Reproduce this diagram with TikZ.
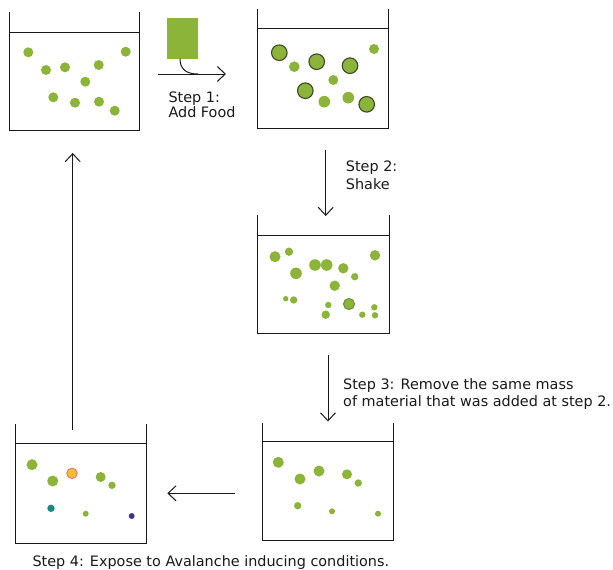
\documentclass[tikz,border=0pt]{standalone}
\usepackage{fontspec}
\setmainfont{DejaVu Sans}
\usetikzlibrary{arrows.meta}
\definecolor{leaf}{RGB}{139,180,57}
\definecolor{leafline}{RGB}{62,72,42}
\definecolor{sun}{RGB}{242,190,52}
\definecolor{pinkline}{RGB}{226,110,130}
\definecolor{tealdot}{RGB}{22,140,128}
\definecolor{navydot}{RGB}{62,52,140}
\definecolor{ink}{RGB}{25,25,25}
\tikzset{
  beakerline/.style={draw=ink, line width=1pt},
  flow/.style={draw=ink, line width=1pt, -{Straight Barb[length=8pt,width=15pt,line width=1pt]}},
  lbl/.style={font=\fontsize{14.4}{17}\selectfont, text=ink, inner sep=0pt, anchor=base west},
  dot/.style={fill=leaf, draw=none},
  bigdot/.style={fill=leaf, draw=leafline, line width=1.1pt},
}
\newcommand\mybeaker[5]{%
  \draw[beakerline] (#1,#2) -- (#1,#5) -- (#3,#5) -- (#3,#2);
  \draw[beakerline] (#1,#4) -- (#3,#4);
}
\begin{document}
\begin{tikzpicture}[x=1pt,y=-1pt]
\useasboundingbox (0,0) rectangle (613,570);
% beakers
\mybeaker{9}{12}{139}{32}{130}
\mybeaker{257}{9}{388}{28}{128}
\mybeaker{257}{215}{389}{235}{333}
\mybeaker{262}{423}{393}{441}{540}
\mybeaker{15}{424}{146}{443}{543}
% beaker 1 dots
\foreach \x/\y in {28.3/52.3, 46/70, 65/67.3, 98.7/65, 125.7/51.7, 85.3/81.7, 53.3/97.3, 75/102.7, 99/101.7, 114.7/110.7}
  \fill[dot] (\x,\y) circle (5);
% beaker 2 dots
\foreach \x/\y in {279.3/52.7, 316.7/61.7, 350/65.7, 305.3/90.7, 366.7/104.3}
  \filldraw[bigdot] (\x,\y) circle (7.8);
\foreach \x/\y/\r in {294.3/66.7/5.3, 374/49/5, 333.3/80/5, 324.3/101.7/5.8, 348.3/97.7/5.8}
  \fill[dot] (\x,\y) circle (\r);
% beaker 3 dots
\foreach \x/\y/\r in {275/256.7/5.5, 289/251.7/4.2, 296/273.3/5.8, 315/265/5.8, 326.7/265/5.8, 343.3/268.3/5.2, 354.7/276.7/3.7, 375/255.3/5.2, 334.7/285.7/5.2, 285.7/298.7/2.7, 293.7/300/3.7, 328.3/305/3.2, 374.3/307.3/3.2, 325.7/314.7/4.2, 362.3/314.7/3.2, 375/315.3/3.2}
  \fill[dot] (\x,\y) circle (\r);
\filldraw[fill=leaf, draw=leafline!45!leaf, line width=0.8pt] (349,304) circle (5.6);
% beaker 4 dots
\foreach \x/\y/\r in {278.3/462.3/5.5, 300/479/5.5, 319/471/5.5, 347/474.3/5, 358.3/483/3.7, 297.7/505.7/3.7, 332/511.3/3, 378/513.7/3}
  \fill[dot] (\x,\y) circle (\r);
% beaker 5 dots
\foreach \x/\y/\r in {32/464.7/5.5, 52.7/481/5.5, 100.7/477/5, 112/485.3/3.7, 85.7/513.7/3}
  \fill[dot] (\x,\y) circle (\r);
\filldraw[fill=sun, draw=pinkline, line width=0.8pt] (72,473.3) circle (5.3);
\fill[tealdot] (51,508.3) circle (3.7);
\fill[navydot] (131.7,516) circle (3);
% food block
\fill[leaf] (167.3,17.7) rectangle (197.7,58.7);
% coordinates for connectors
\coordinate (foodout) at (180,58.7);
\coordinate (a1s) at (158.3,74);
\coordinate (a1e) at (226,74);
\coordinate (a1m) at (198,74);
\coordinate (a2s) at (325.7,150);
\coordinate (a2e) at (325.7,216);
\coordinate (a3s) at (328,355);
\coordinate (a3e) at (328,421.5);
\coordinate (a4s) at (235,493.3);
\coordinate (a4e) at (167.3,493.3);
\coordinate (a5s) at (72.7,430);
\coordinate (a5e) at (72.7,153);
% connectors
\draw[flow] (a1s) -- (a1e);
\draw[draw=ink, line width=1pt] (foodout) .. controls (180,69) and (186,74) .. (a1m);
\draw[flow] (a2s) -- (a2e);
\draw[flow] (a3s) -- (a3e);
\draw[flow] (a4s) -- (a4e);
\draw[flow] (a5s) -- (a5e);
% labels
\node[lbl] (s1a) at (168.3,102.7) {Step 1:};
\node[lbl] (s1b) at (168.3,117.8) {Add Food};
\node[lbl] (s2a) at (345.7,171) {Step 2:};
\node[lbl] (s2b) at (345.7,189) {Shake};
\node[lbl] (s3a) at (343,389) {Step 3: Remove the same mass};
\node[lbl] (s3b) at (343,406) {of material that was added at step 2.};
\node[lbl] (s4) at (32.3,566.3) {Step 4: Expose to Avalanche inducing conditions.};
\end{tikzpicture}
\end{document}
